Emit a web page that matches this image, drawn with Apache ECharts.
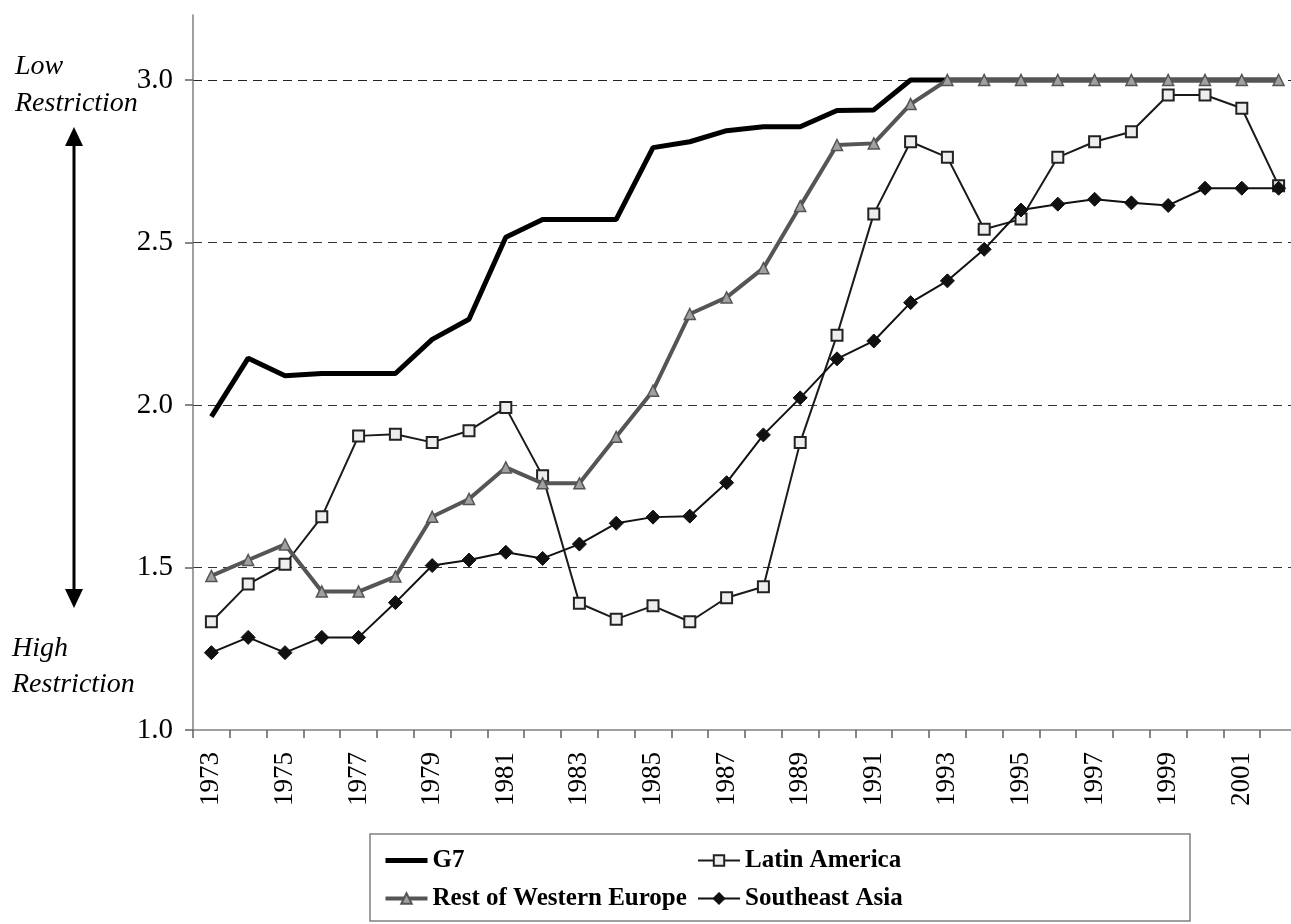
<!DOCTYPE html>
<html><head><meta charset="utf-8">
<script src="https://cdn.jsdelivr.net/npm/echarts@6/dist/echarts.min.js"></script>
<style>html,body{margin:0;padding:0;background:#fff}#c{width:1291px;height:924px}</style>
</head><body><div id="c"></div>
<script>
const years = ['1973','1974','1975','1976','1977','1978','1979','1980','1981','1982',
  '1983','1984','1985','1986','1987','1988','1989','1990','1991','1992',
  '1993','1994','1995','1996','1997','1998','1999','2000','2001','2002'];
const g7 = [1.964,2.144,2.090,2.097,2.097,2.097,2.202,2.264,2.516,2.571,
  2.571,2.571,2.792,2.810,2.844,2.856,2.856,2.906,2.908,3.0,
  3.0,3.0,3.0,3.0,3.0,3.0,3.0,3.0,3.0,3.0];
const latinAmerica = [1.333,1.449,1.510,1.656,1.905,1.910,1.885,1.921,1.992,1.782,
  1.390,1.341,1.382,1.333,1.407,1.441,1.885,2.215,2.588,2.810,
  2.762,2.541,2.572,2.762,2.810,2.841,2.954,2.954,2.913,2.675];
const restWesternEurope = [1.474,1.523,1.571,1.426,1.426,1.472,1.656,1.711,1.808,1.759,
  1.759,1.902,2.044,2.280,2.331,2.421,2.612,2.800,2.805,2.926,
  3.0,3.0,3.0,3.0,3.0,3.0,3.0,3.0,3.0,3.0];
const southeastAsia = [1.238,1.285,1.238,1.285,1.285,1.392,1.506,1.523,1.547,1.528,
  1.572,1.636,1.655,1.658,1.761,1.908,2.022,2.142,2.197,2.315,
  2.382,2.479,2.600,2.618,2.633,2.622,2.614,2.667,2.667,2.667];
const yTicks = [1.0, 1.5, 2.0, 2.5, 3.0];
const names = ['G7', 'Latin America', 'Rest of Western Europe', 'Southeast Asia'];

const serif = 'Liberation Serif, Times New Roman, serif';
const chart = echarts.init(document.getElementById('c'), null, {renderer: 'canvas'});
const legendText = {fontFamily: serif, fontWeight: 'bold', fontSize: 25, color: '#000'};
chart.setOption({
  animation: false,
  backgroundColor: '#fff',
  grid: {left: 193, right: -6, top: 15, bottom: 194, containLabel: false, outerBoundsMode: 'none'},
  xAxis: {
    type: 'category', data: years, boundaryGap: true,
    axisLine: {lineStyle: {color: '#808080', width: 1.5}},
    axisTick: {show: true, interval: 0, length: 8, lineStyle: {color: '#606060', width: 1.5}},
    axisLabel: {interval: 1, rotate: 90, margin: 22, fontFamily: serif, fontSize: 27, color: '#000'},
    splitLine: {show: false}
  },
  yAxis: {
    type: 'value', min: 1.0, max: 3.2, interval: 0.5,
    axisLine: {show: true, lineStyle: {color: '#808080', width: 1.5}},
    axisTick: {show: true, inside: false, length: 8, customValues: yTicks, lineStyle: {color: '#606060', width: 1.5}},
    axisLabel: {margin: 20, fontFamily: serif, fontSize: 29, color: '#000', customValues: yTicks,
      formatter: v => (v > 3.05 ? '' : Number(v).toFixed(1))},
    splitLine: {show: true, lineStyle: {type: [9, 6], width: 1,
      color: ['rgba(0,0,0,0)', '#333', '#333', '#333', '#222', 'rgba(0,0,0,0)']}}
  },
  legend: [
    {orient: 'vertical', left: 383, top: 848, padding: 0, itemGap: 13, itemWidth: 42, itemHeight: 13,
      textStyle: legendText, selectedMode: false,
      data: [{name: names[0], itemStyle: {opacity: 0}, lineStyle: {width: 5}},
             {name: names[2], lineStyle: {width: 4}}]},
    {orient: 'vertical', left: 697, top: 848, padding: 0, itemGap: 13, itemWidth: 42, itemHeight: 13,
      textStyle: legendText, selectedMode: false,
      data: [{name: names[1], lineStyle: {width: 2}}, {name: names[3], lineStyle: {width: 2}}]}
  ],
  graphic: [
    {type: 'rect', shape: {x: 370, y: 834, width: 820, height: 87}, style: {fill: 'none', stroke: '#808080', lineWidth: 1.5}, silent: true},
    {type: 'line', shape: {x1: 74, y1: 140, x2: 74, y2: 595}, style: {stroke: '#000', lineWidth: 3}},
    {type: 'polygon', shape: {points: [[65, 146], [83, 146], [74, 127]]}, style: {fill: '#000'}},
    {type: 'polygon', shape: {points: [[65, 589], [83, 589], [74, 608]]}, style: {fill: '#000'}},
    {type: 'text', x: 15, y: 66.5, style: {text: 'Low', font: 'italic 28px ' + serif, fill: '#000', verticalAlign: 'middle'}},
    {type: 'text', x: 15, y: 103.5, style: {text: 'Restriction', font: 'italic 28px ' + serif, fill: '#000', verticalAlign: 'middle'}},
    {type: 'text', x: 12, y: 648.5, style: {text: 'High', font: 'italic 28px ' + serif, fill: '#000', verticalAlign: 'middle'}},
    {type: 'text', x: 12, y: 684.5, style: {text: 'Restriction', font: 'italic 28px ' + serif, fill: '#000', verticalAlign: 'middle'}}
  ],
  series: [
    {name: names[0], type: 'line', data: g7, symbol: 'none', showSymbol: false,
      lineStyle: {color: '#000', width: 5}, itemStyle: {color: '#000'}, z: 2},
    {name: names[1], type: 'line', data: latinAmerica, symbol: 'rect', symbolSize: 11,
      lineStyle: {color: '#1a1a1a', width: 2},
      itemStyle: {color: '#eeeeee', borderColor: '#222', borderWidth: 2}, z: 3},
    {name: names[2], type: 'line', data: restWesternEurope, symbol: 'triangle', symbolSize: 11,
      lineStyle: {color: '#555555', width: 4},
      itemStyle: {color: '#a0a0a0', borderColor: '#555555', borderWidth: 1.5}, z: 4},
    {name: names[3], type: 'line', data: southeastAsia, symbol: 'diamond', symbolSize: 14,
      lineStyle: {color: '#111', width: 2},
      itemStyle: {color: '#111', borderColor: '#111', borderWidth: 1}, z: 5}
  ]
});
</script></body></html>
